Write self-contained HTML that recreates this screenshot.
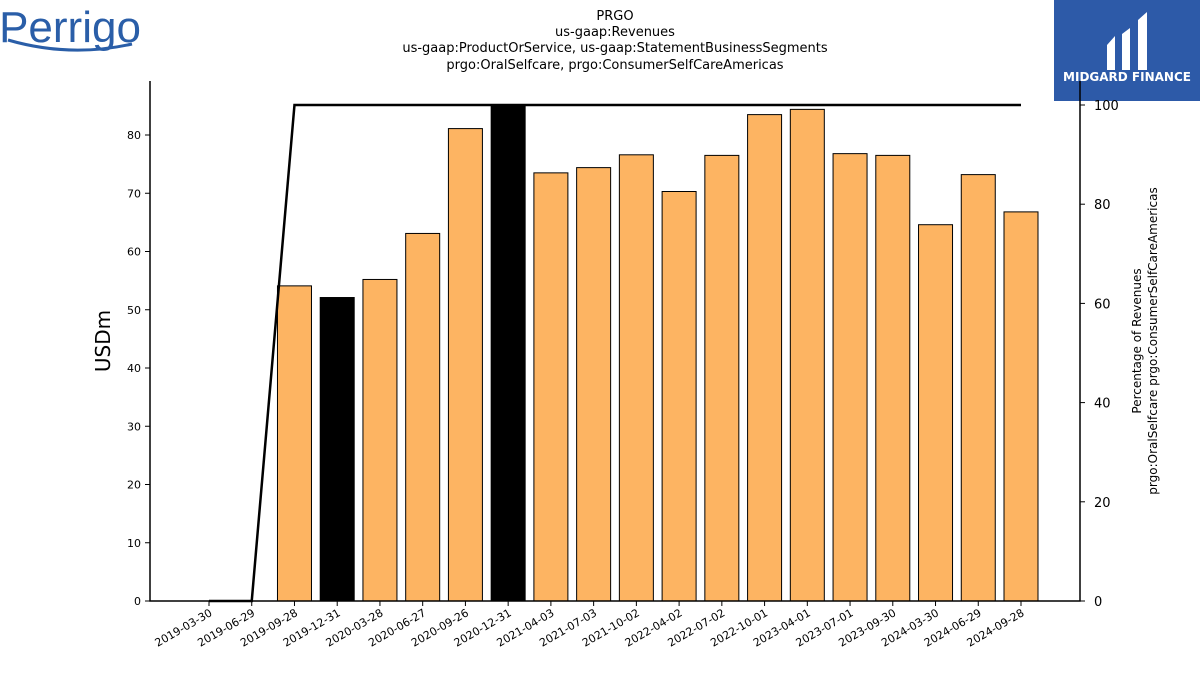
<!DOCTYPE html>
<html><head><meta charset="utf-8"><style>
body{margin:0;background:#fff;width:1200px;height:675px;overflow:hidden;font-family:"Liberation Sans",sans-serif}
svg text{font-family:"DejaVu Sans","Liberation Sans",sans-serif}
</style></head><body>
<svg id="chart" width="1200" height="675">
<text x="70" y="42" font-size="44" fill="#2a5ea8" text-anchor="middle" font-family="Liberation Sans" style="font-family:'Liberation Sans'">Perrigo</text>
<path d="M8 40 Q70 58 132 44" stroke="#2a5ea8" stroke-width="3" fill="none"/>
<g>
<rect x="1054" y="0" width="146" height="101" fill="#2d5aa8"/>
<path d="M1107 45 L1115 36 L1115 70 L1107 70 Z M1122 34 L1130 28 L1130 70 L1122 70 Z M1138 20 L1147 12 L1147 70 L1138 70 Z" fill="#fff"/>
<text x="1127" y="81" font-size="12" font-weight="bold" fill="#fff" text-anchor="middle">MIDGARD FINANCE</text>
</g>
<g font-size="13" text-anchor="middle">
<text x="615" y="20">PRGO</text>
<text x="615" y="36">us-gaap:Revenues</text>
<text x="615" y="52">us-gaap:ProductOrService, us-gaap:StatementBusinessSegments</text>
<text x="615" y="69">prgo:OralSelfcare, prgo:ConsumerSelfCareAmericas</text>
</g>
<g id="bars"></g><g id="axes"></g>
<text transform="translate(110,341) rotate(-90)" font-size="20" text-anchor="middle">USDm</text>
<text transform="translate(1141,341) rotate(-90)" font-size="12" text-anchor="middle"><tspan x="0" dy="0">Percentage of Revenues</tspan><tspan x="0" dy="16">prgo:OralSelfcare prgo:ConsumerSelfCareAmericas</tspan></text>
</svg>
<script>
const categories=["2019-03-30","2019-06-29","2019-09-28","2019-12-31","2020-03-28","2020-06-27","2020-09-26","2020-12-31","2021-04-03","2021-07-03","2021-10-02","2022-04-02","2022-07-02","2022-10-01","2023-04-01","2023-07-01","2023-09-30","2024-03-30","2024-06-29","2024-09-28"];
const revenues=[0,0,54.1,52.1,55.2,63.1,81.1,85,73.5,74.4,76.6,70.3,76.5,83.5,84.4,76.8,76.5,64.6,73.2,66.8];
const highlighted=[false,false,false,true,false,false,false,true,false,false,false,false,false,false,false,false,false,false,false,false];
const percentages=[0,0,100,100,100,100,100,100,100,100,100,100,100,100,100,100,100,100,100,100];
const leftTicks=[0,10,20,30,40,50,60,70,80];
const rightTicks=[0,20,40,60,80,100];
const NS="http://www.w3.org/2000/svg";
const L=150,R=1080,T=81,B=601;
const x=i=>209+i*(1021-209)/(categories.length-1);
const y=v=>B-v*(B-135)/80;
const y2=v=>B-v*(B-105)/100;
function mk(tag,attrs,parent){const e=document.createElementNS(NS,tag);for(const k in attrs)e.setAttribute(k,attrs[k]);parent.appendChild(e);return e;}
const bars=document.getElementById('bars'),axes=document.getElementById('axes');
revenues.forEach((v,i)=>{if(v<=0)return;
const r=mk('rect',{x:x(i)-17,y:y(v),width:34,height:B-y(v),fill:highlighted[i]?'#000':'#fdb462',stroke:'#000','stroke-width':1},bars);

});
const pts=percentages.map((p,i)=>x(i)+','+y2(p)).join(' ');
const line=mk('polyline',{points:pts,fill:'none',stroke:'#000','stroke-width':2.5},bars);


const frame=mk('path',{d:`M${L} ${T} L${L} ${B} L${R} ${B} L${R} ${T}`,fill:'none',stroke:'#000','stroke-width':1.5},axes);


leftTicks.forEach(t=>{mk('line',{x1:L-5,x2:L,y1:y(t),y2:y(t),stroke:'#000'},axes);
const tx=mk('text',{x:L-9,y:y(t)+4,'font-size':11,'text-anchor':'end'},axes);tx.textContent=t;

});
rightTicks.forEach(t=>{mk('line',{x1:R,x2:R+5,y1:y2(t),y2:y2(t),stroke:'#000'},axes);
const tx=mk('text',{x:R+14,y:y2(t)+5,'font-size':13},axes);tx.textContent=t;

});
categories.forEach((c,i)=>{mk('line',{x1:x(i),x2:x(i),y1:B,y2:B+5,stroke:'#000'},axes);
const tx=mk('text',{x:x(i)+4,y:B+14,'font-size':11,'text-anchor':'end',transform:`rotate(-30 ${x(i)+4} ${B+14})`},axes);tx.textContent=c;

});
</script>
</body></html>
